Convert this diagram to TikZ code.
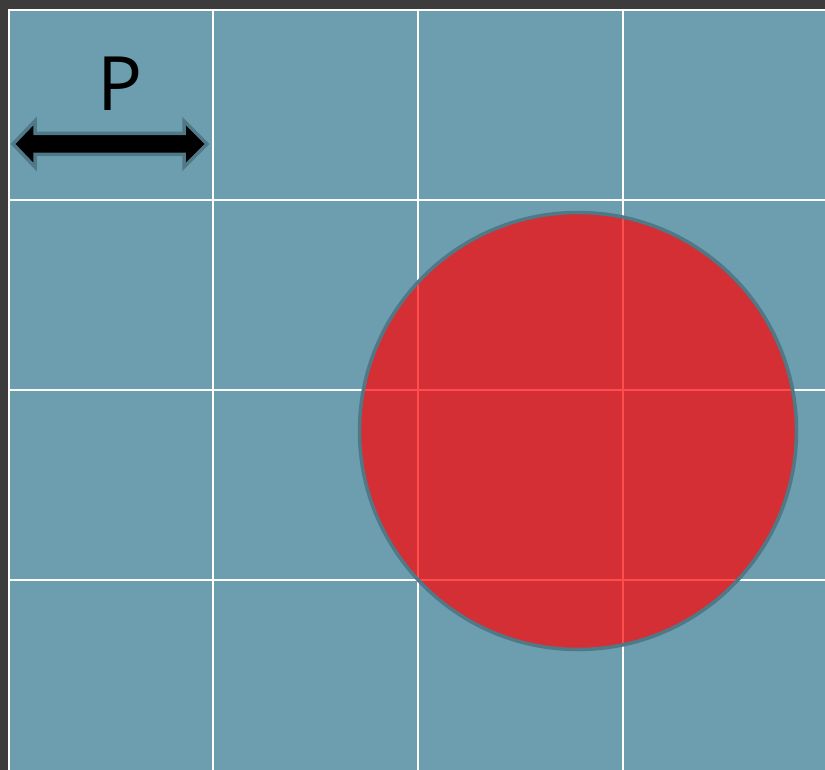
\documentclass[tikz,border=0pt]{standalone}
\usepackage{fontspec}
\setsansfont{Open Sans}
\usepackage{xcolor}
\usepackage{tikz}

\definecolor{frame}{HTML}{3C3C3C}
\definecolor{board}{HTML}{6C9EAF}
\definecolor{edge}{HTML}{4F7987}

\begin{document}
\begin{tikzpicture}[x=1pt, y=-1pt, grid/.style={draw=white, line width=2pt}, disc/.style={fill=red, fill opacity=0.7, draw=edge, line width=3.5pt}, pitch/.style={fill=black, draw=edge, line width=3.5pt, line join=miter}]
\useasboundingbox (0,0) rectangle (825,770);
\fill[frame] (0,0) rectangle (825,770);
\fill[board] (8,9) rectangle (825,770);
% grid
\foreach \x in {9,213,418,623} \draw[grid] (\x,9) -- (\x,770);
\foreach \y in {10,200,390,580} \draw[grid] (8,\y) -- (825,\y);
% circle over grid
\path[disc] (578,431) circle[radius=218.5];
% period arrow
\path[pitch] (13,144) -- (35,121) -- (35,133.5) -- (184,133.5) -- (184,121) -- (207,144) -- (184,167) -- (184,154.5) -- (35,154.5) -- (35,167) -- cycle;
\node[font=\sffamily\fontsize{75}{75}\selectfont, inner sep=0] (plabel) at (120,84) {P};
\end{tikzpicture}
\end{document}
